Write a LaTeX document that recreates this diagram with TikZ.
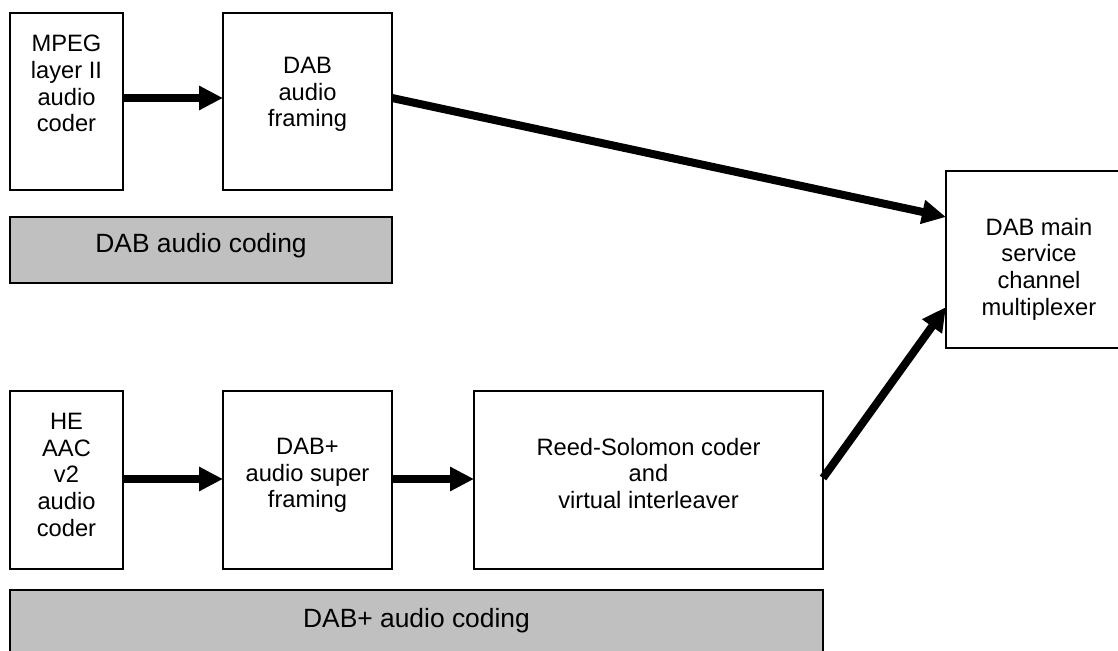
\documentclass[tikz,border=0pt]{standalone}
\usepackage{fontspec}
\setmainfont{Liberation Sans}
\usetikzlibrary{arrows.meta}
\definecolor{boxgray}{RGB}{192,192,192}
\tikzset{
  blk/.style={draw=black, line width=1.2pt, fill=white, inner sep=0pt, outer sep=0pt},
  grayblk/.style={draw=black, line width=1.2pt, fill=boxgray, inner sep=0pt, outer sep=0pt},
  txt/.style={inner sep=0pt, outer sep=0pt, align=center, anchor=north, font=\fontsize{23.7}{26.8}\selectfont},
  graytxt/.style={inner sep=0pt, outer sep=0pt, anchor=base, font=\fontsize{26.4}{30}\selectfont},
  flow/.style={line width=8pt, -{Triangle[length=24pt,width=23pt]}, shorten >=0pt}
}
\begin{document}
\begin{tikzpicture}[x=1pt,y=-1pt]
\useasboundingbox (0,0) rectangle (1118,650);
% boxes
\node[blk, minimum width=113pt, minimum height=177pt] (mpeg) at (66.5,101.5) {};
\node[blk, minimum width=169pt, minimum height=177pt] (frm) at (307.5,101.5) {};
\node[grayblk, minimum width=382pt, minimum height=66pt] (dabc) at (201,250) {};
\node[blk, minimum width=186pt, minimum height=177pt] (mux) at (1039,259.5) {};
\node[blk, minimum width=113pt, minimum height=178pt] (heaac) at (66.5,480) {};
\node[blk, minimum width=169pt, minimum height=178pt] (sfrm) at (307.5,480) {};
\node[blk, minimum width=349pt, minimum height=178pt] (rs) at (648.5,480) {};
\node[grayblk, minimum width=813pt, minimum height=70pt] (dabpc) at (416.5,625) {};
% texts
\node[txt] (t1) at (66.5,35) {MPEG\\layer II\\audio\\coder};
\node[txt] (t2) at (307.5,57) {DAB\\audio\\framing};
\node[graytxt] (t3) at (201,252) {DAB audio coding};
\node[txt] (t4) at (1039,218) {DAB main\\service\\channel\\multiplexer};
\node[txt] (t5) at (66.5,413) {HE\\AAC\\v2\\audio\\coder};
\node[txt] (t6) at (307.5,438) {DAB+\\audio super\\framing};
\node[txt] (t7) at (648.5,438) {Reed-Solomon coder\\and\\virtual interleaver};
\node[graytxt] (t8) at (416.5,627) {DAB+ audio coding};
% connectors
\coordinate (m1) at (mpeg.east |- 0,98);
\coordinate (f1) at (frm.west |- 0,98);
\draw[flow] (m1) -- (f1);
\coordinate (f2) at (frm.east |- 0,98);
\coordinate (x1) at (mux.west |- 0,217);
\draw[flow] (f2) -- (x1);
\coordinate (h1) at (heaac.east |- 0,479);
\coordinate (s1) at (sfrm.west |- 0,479);
\draw[flow] (h1) -- (s1);
\coordinate (s2) at (sfrm.east |- 0,479);
\coordinate (r1) at (rs.west |- 0,479);
\draw[flow] (s2) -- (r1);
\coordinate (r2) at (rs.east |- 0,478);
\coordinate (x2) at (mux.west |- 0,307);
\draw[flow] (r2) -- (x2);
\end{tikzpicture}
\end{document}
